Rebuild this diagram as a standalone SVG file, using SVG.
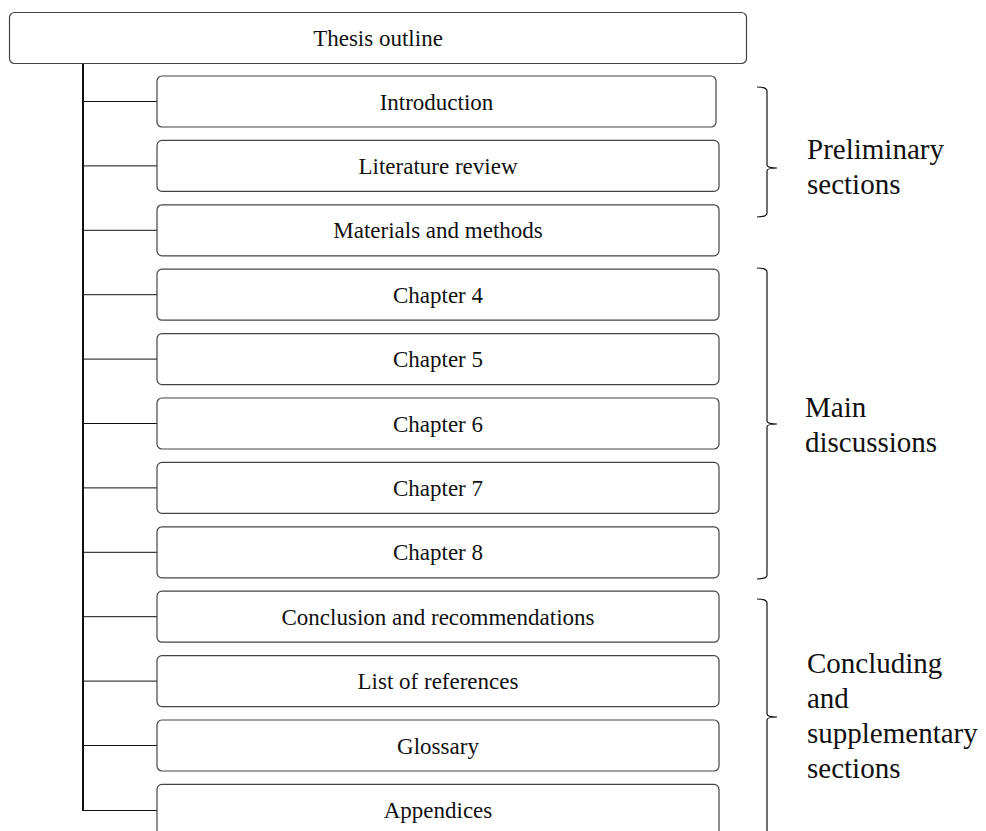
<svg xmlns="http://www.w3.org/2000/svg" width="986" height="831" viewBox="0 0 986 831">
<style>
.box{fill:#fff;stroke:#444;stroke-width:1.2}
.lbl{font-family:"Liberation Serif","Times New Roman",serif;font-size:23px;fill:#111;text-anchor:middle}
.side{font-family:"Liberation Serif","Times New Roman",serif;font-size:29px;fill:#111}
.conn{stroke:#111;fill:none}
.brace{stroke:#111;stroke-width:1.2;fill:none}
</style>
<rect width="986" height="831" fill="#fff"/>
<g id="connectors">
<line class="conn" x1="83" y1="63" x2="83" y2="811" stroke-width="2"/>
<g stroke-width="1">
<line class="conn" x1="83" y1="101.5" x2="157" y2="101.5"/>
<line class="conn" x1="83" y1="165.9" x2="157" y2="165.9"/>
<line class="conn" x1="83" y1="230.3" x2="157" y2="230.3"/>
<line class="conn" x1="83" y1="294.7" x2="157" y2="294.7"/>
<line class="conn" x1="83" y1="359.1" x2="157" y2="359.1"/>
<line class="conn" x1="83" y1="423.5" x2="157" y2="423.5"/>
<line class="conn" x1="83" y1="487.9" x2="157" y2="487.9"/>
<line class="conn" x1="83" y1="552.3" x2="157" y2="552.3"/>
<line class="conn" x1="83" y1="616.7" x2="157" y2="616.7"/>
<line class="conn" x1="83" y1="681.1" x2="157" y2="681.1"/>
<line class="conn" x1="83" y1="745.5" x2="157" y2="745.5"/>
<line class="conn" x1="83" y1="810.5" x2="157" y2="810.5"/>
</g>
</g>
<g id="root"><rect class="box" x="9.5" y="12.5" width="737" height="51" rx="5"/><text class="lbl" x="378" y="46">Thesis outline</text></g>
<g id="n1"><rect class="box" x="157" y="76" width="559" height="51" rx="5"/><text class="lbl" x="436.5" y="109.5">Introduction</text></g>
<g id="n2"><rect class="box" x="157" y="140.4" width="562" height="51" rx="5"/><text class="lbl" x="438" y="173.9">Literature review</text></g>
<g id="n3"><rect class="box" x="157" y="204.8" width="562" height="51" rx="5"/><text class="lbl" x="438" y="238.3">Materials and methods</text></g>
<g id="n4"><rect class="box" x="157" y="269.2" width="562" height="51" rx="5"/><text class="lbl" x="438" y="302.7">Chapter 4</text></g>
<g id="n5"><rect class="box" x="157" y="333.6" width="562" height="51" rx="5"/><text class="lbl" x="438" y="367.1">Chapter 5</text></g>
<g id="n6"><rect class="box" x="157" y="398" width="562" height="51" rx="5"/><text class="lbl" x="438" y="431.5">Chapter 6</text></g>
<g id="n7"><rect class="box" x="157" y="462.4" width="562" height="51" rx="5"/><text class="lbl" x="438" y="495.9">Chapter 7</text></g>
<g id="n8"><rect class="box" x="157" y="526.8" width="562" height="51" rx="5"/><text class="lbl" x="438" y="560.3">Chapter 8</text></g>
<g id="n9"><rect class="box" x="157" y="591.2" width="562" height="51" rx="5"/><text class="lbl" x="438" y="624.7">Conclusion and recommendations</text></g>
<g id="n10"><rect class="box" x="157" y="655.6" width="562" height="51" rx="5"/><text class="lbl" x="438" y="689.1">List of references</text></g>
<g id="n11"><rect class="box" x="157" y="720" width="562" height="51" rx="5"/><text class="lbl" x="438" y="753.5">Glossary</text></g>
<g id="n12"><rect class="box" x="157" y="784.4" width="562" height="60" rx="5"/><text class="lbl" x="438" y="817.9">Appendices</text></g>
<g id="brace1">
<path class="brace" d="M757,87 Q767,87 767,91 V165 Q767,168 777,168 Q767,168 767,171 V213 Q767,217 757,217"/>
<text class="side" x="807"><tspan x="807" y="159">Preliminary</tspan><tspan x="807" y="194">sections</tspan></text>
</g>
<g id="brace2">
<path class="brace" d="M757,268 Q767,268 767,272 V421 Q767,424 777,424 Q767,424 767,427 V575 Q767,579 757,579"/>
<text class="side" x="805"><tspan x="805" y="417">Main</tspan><tspan x="805" y="452">discussions</tspan></text>
</g>
<g id="brace3">
<path class="brace" d="M757,599 Q767,599 767,603 V714 Q767,717 777,717 Q767,717 767,720 V835"/>
<text class="side" x="807"><tspan x="807" y="673">Concluding</tspan><tspan x="807" y="708">and</tspan><tspan x="807" y="743">supplementary</tspan><tspan x="807" y="778">sections</tspan></text>
</g>
</svg>
